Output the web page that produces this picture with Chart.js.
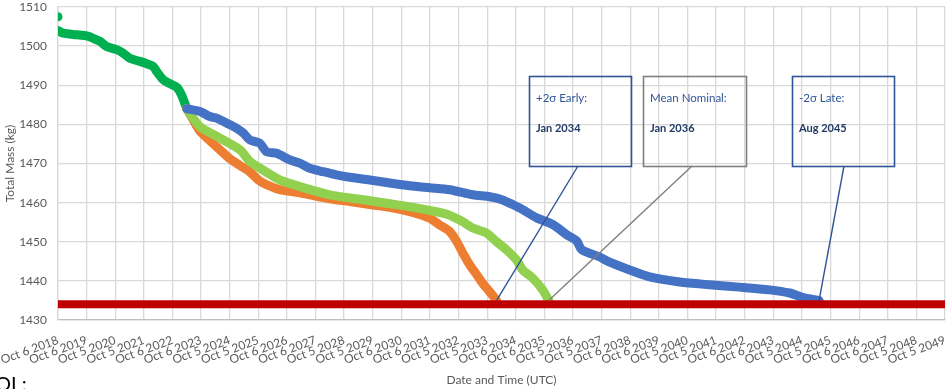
<!DOCTYPE html>
<html>
<head>
<meta charset="utf-8">
<script src="https://cdn.jsdelivr.net/npm/chart.js@4/dist/chart.umd.min.js"></script>
<style>
  html, body { margin: 0; padding: 0; background: #ffffff; }
  #wrap { position: relative; width: 951px; height: 389px; overflow: hidden; }
  #note { position: absolute; left: -5px; top: 373px; font: 20px Lato, sans-serif; line-height: 1; color: #000; white-space: pre; }
</style>
</head>
<body>
<div id="wrap">
  <canvas id="c" width="951" height="389"></canvas>
  <div id="note">OI :</div>
</div>
<script>
// x values are years elapsed since Oct 6 2018; y values are total mass in kg
const tickLabels = ['Oct 6 2018','Oct 6 2019','Oct 5 2020','Oct 5 2021','Oct 6 2022','Oct 6 2023','Oct 5 2024','Oct 5 2025',
  'Oct 6 2026','Oct 6 2027','Oct 5 2028','Oct 5 2029','Oct 6 2030','Oct 6 2031','Oct 5 2032','Oct 5 2033',
  'Oct 6 2034','Oct 6 2035','Oct 5 2036','Oct 5 2037','Oct 6 2038','Oct 6 2039','Oct 5 2040','Oct 5 2041',
  'Oct 6 2042','Oct 6 2043','Oct 5 2044','Oct 5 2045','Oct 6 2046','Oct 6 2047','Oct 5 2048','Oct 5 2049'];

const launchYear = 0.0;
const launchMass = 1507.5;

const historyYears = [0.00, 0.18, 0.65, 1.00, 1.23, 1.47, 1.70, 2.05, 2.28, 2.51, 2.86, 3.10, 3.33, 3.45, 3.68, 3.91, 4.15, 4.32, 4.50];
const historyMass  = [1504.0, 1503.3, 1502.9, 1502.6, 1502.0, 1501.2, 1499.9, 1499.1, 1498.2, 1496.9, 1496.1, 1495.5, 1494.8, 1493.5, 1491.4, 1490.4, 1489.5, 1487.5, 1484.0];

const lateYears = [4.50, 4.96, 5.31, 5.54, 6.01, 6.24, 6.47, 6.71, 7.05, 7.29, 7.64, 8.10, 8.45, 8.80, 9.27, 9.73, 10.20, 10.90, 11.60, 12.29,
  12.99, 13.69, 14.50, 15.09, 15.54, 15.89, 16.24, 16.73, 17.29, 17.78, 18.13, 18.30, 18.93, 19.28, 19.98, 20.68, 21.73, 22.77, 23.82, 24.87,
  25.57, 26.02, 26.60];
const lateMass = [1484.0, 1483.3, 1482.0, 1481.6, 1479.9, 1479.0, 1477.8, 1476.0, 1475.2, 1473.0, 1472.6, 1470.9, 1470.1, 1468.8, 1467.9, 1467.1, 1466.5, 1465.8, 1465.0, 1464.3,
  1463.8, 1463.3, 1462.0, 1461.5, 1460.7, 1459.5, 1458.2, 1456.1, 1454.4, 1451.8, 1450.2, 1448.0, 1446.1, 1444.8, 1442.8, 1441.0, 1439.7, 1439.0, 1438.4, 1437.7,
  1436.9, 1435.8, 1435.0];

const meanYears = [4.50, 4.96, 5.66, 6.36, 6.71, 7.06, 7.75, 8.45, 9.50, 10.20, 10.90, 11.60, 12.40, 12.99, 13.59, 14.15, 14.50, 14.98, 15.33, 15.68,
  16.03, 16.24, 16.59, 16.94, 17.15];
const meanMass = [1484.0, 1479.4, 1476.5, 1473.5, 1470.5, 1468.8, 1465.8, 1464.1, 1462.0, 1461.2, 1460.5, 1459.7, 1458.8, 1458.0, 1457.0, 1455.1, 1453.5, 1452.2, 1450.0, 1447.9,
  1445.3, 1442.8, 1440.7, 1437.7, 1435.0];

const earlyYears = [4.50, 4.70, 4.96, 5.31, 5.66, 6.01, 6.36, 6.71, 7.06, 7.41, 7.75, 8.45, 9.50, 10.20, 10.90, 11.60, 12.40, 12.99, 13.34, 13.69,
  13.94, 14.15, 14.39, 14.64, 14.84, 15.09, 15.33];
const earlyMass = [1484.0, 1481.5, 1478.3, 1475.8, 1473.5, 1471.2, 1469.5, 1467.8, 1465.5, 1464.2, 1463.3, 1462.5, 1461.0, 1460.3, 1459.5, 1458.8, 1457.5, 1456.0, 1454.3, 1452.6,
  1450.0, 1447.1, 1444.1, 1441.5, 1439.4, 1437.2, 1435.0];

const floorYears = [0, 31];
const floorMass = 1434;

const calloutLabels = ['+2σ Early:', 'Mean Nominal:', '-2σ Late:'];
const calloutDates  = ['Jan 2034', 'Jan 2036', 'Aug 2045'];

const pts = (xs, ys) => xs.map((x, i) => ({ x, y: ys[i] }));

const FONT = 'Lato, "Open Sans", sans-serif';
const lineStyle = { borderWidth: 9, pointRadius: 0, borderCapStyle: 'round', borderJoinStyle: 'round', tension: 0.25, fill: false };

// Text boxes with leader lines pointing at the end of each forecast curve
const calloutPlugin = {
  id: 'callouts',
  afterDatasetsDraw(chart, args, opts) {
    const { ctx, scales: { x, y } } = chart;
    opts.items.forEach((item, i) => {
      const data = chart.data.datasets[item.datasetIndex].data;
      const end = data[data.length - 1];
      const ex = x.getPixelForValue(end.x);
      const ey = y.getPixelForValue(end.y);
      ctx.save();
      ctx.strokeStyle = item.color;
      ctx.lineWidth = 1.4;
      ctx.beginPath();
      ctx.moveTo(item.stubX, item.top + item.height);
      ctx.lineTo(ex, ey);
      ctx.stroke();
      ctx.lineWidth = 1.6;
      ctx.strokeRect(item.left + 0.5, item.top + 0.5, item.width, item.height);
      ctx.textBaseline = 'middle';
      ctx.textAlign = 'left';
      ctx.fillStyle = '#2F5597';
      ctx.font = '11.5px ' + FONT;
      ctx.fillText(calloutLabels[i], item.left + 7, item.top + 22);
      ctx.fillStyle = '#1F3864';
      ctx.font = 'bold 11px ' + FONT;
      ctx.fillText(calloutDates[i], item.left + 7, item.top + 52);
      ctx.restore();
    });
  }
};

new Chart(document.getElementById('c'), {
  type: 'line',
  data: {
    datasets: [
      { label: 'Depletion', data: pts(floorYears, [floorMass, floorMass]), borderColor: '#C00000', ...lineStyle, borderWidth: 8, tension: 0 },
      { label: '-2σ Late', data: pts(lateYears, lateMass), borderColor: '#4472C4', ...lineStyle },
      { label: 'Mean Nominal', data: pts(meanYears, meanMass), borderColor: '#92D050', ...lineStyle },
      { label: '+2σ Early', data: pts(earlyYears, earlyMass), borderColor: '#ED7D31', ...lineStyle },
      { label: 'Telemetry', data: pts(historyYears, historyMass), borderColor: '#00B050', ...lineStyle },
      { label: 'Launch', data: [{ x: launchYear, y: launchMass }], showLine: false, pointRadius: 4.5,
        pointBackgroundColor: '#00B050', pointBorderWidth: 0 }
    ]
  },
  options: {
    responsive: false,
    animation: false,
    devicePixelRatio: 1,
    layout: { padding: { top: 7, right: 6, bottom: 0, left: 0 } },
    plugins: {
      legend: { display: false },
      tooltip: { enabled: false },
      callouts: {
        items: [
          { datasetIndex: 3, left: 529, top: 76, width: 102, height: 90, stubX: 578, color: '#2F5597' },
          { datasetIndex: 2, left: 643, top: 76, width: 103, height: 90, stubX: 692, color: '#7F7F7F' },
          { datasetIndex: 1, left: 792, top: 76, width: 102, height: 90, stubX: 844, color: '#2F5597' }
        ]
      }
    },
    scales: {
      x: {
        type: 'linear',
        min: 0, max: 31,
        afterBuildTicks: s => { s.ticks = tickLabels.map((_, i) => ({ value: i })); },
        afterFit: s => { s.height = 69; s.paddingLeft = 0; s.paddingRight = 0; },
        ticks: {
          autoSkip: false, minRotation: 20, maxRotation: 20, padding: 13,
          color: '#595959', font: { family: FONT, size: 12 },
          callback: v => tickLabels[Math.round(v)]
        },
        grid: { color: '#D9D9D9', lineWidth: 1.3, drawTicks: false },
        border: { color: '#BFBFBF', width: 1.3 },
        title: { display: true, text: 'Date and Time (UTC)', color: '#595959',
                 font: { family: FONT, size: 12 }, padding: { top: 0, bottom: 2 } }
      },
      y: {
        min: 1430, max: 1510,
        afterFit: s => { s.width = 58; s.paddingTop = 0; s.paddingBottom = 0; },
        ticks: { stepSize: 10, padding: 11, color: '#595959', font: { family: FONT, size: 12 },
                 callback: v => String(v) },
        grid: { color: '#D9D9D9', lineWidth: 1.3, drawTicks: false },
        border: { color: '#D9D9D9', width: 1.3 },
        title: { display: true, text: 'Total Mass (kg)', color: '#595959',
                 font: { family: FONT, size: 12 }, padding: { top: 3, bottom: 0 } }
      }
    }
  },
  plugins: [calloutPlugin]
});
</script>
</body>
</html>
